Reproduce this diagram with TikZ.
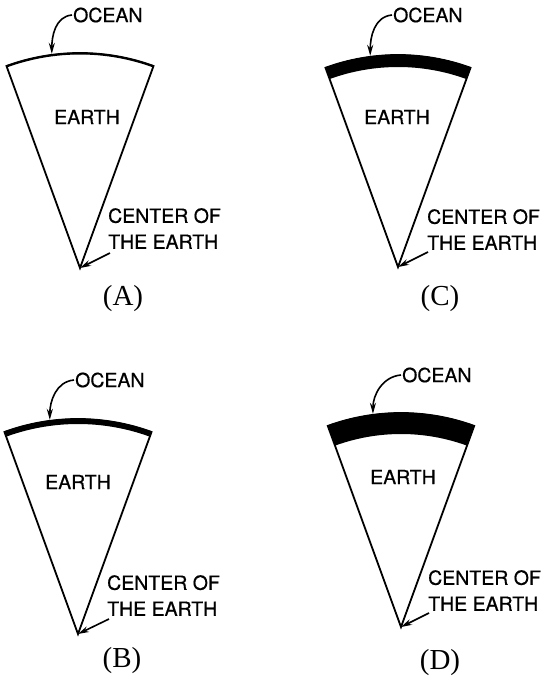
\documentclass[tikz,border=0pt]{standalone}
\usepackage{fontspec}
\setmainfont{Liberation Serif}
\newfontfamily\letterfont[FakeBold=0.6]{TeX Gyre Heros}
\usepackage{tikz}
\usetikzlibrary{calc,arrows.meta}
\tikzset{
    lettering/.style={
        font=\letterfont\fontsize{19.5}{26}\selectfont,
        inner sep=0pt
    },
    caption/.style={
        font=\fontsize{29}{30}\selectfont,
        inner sep=0pt
    },
    wedge/.style={
        draw,
        line width=1.8pt,
        line join=miter
    },
    ocean/.style={
        fill=black
    },
    pointer/.style={
        -{Stealth[length=11pt,width=6pt]},
        line width=1.6pt
    }
}

\begin{document}
\begin{tikzpicture}[x=1pt,y=1pt]

\useasboundingbox (0,0) rectangle (545,-683);

% ============================================================
% (A) THIN OCEAN
% ============================================================

\coordinate (apexA) at (80,-268);

\draw[wedge] (apexA) -- ++(110:215)
arc[start angle=110,end angle=70,radius=215] -- cycle;

\fill[ocean] (apexA) ++(110:215.5)
arc[start angle=110,end angle=70,radius=215.5]
-- ($(apexA)+(70:213.5)$)
arc[start angle=70,end angle=110,radius=213.5] -- cycle;

\node[lettering, anchor=west] (oceanA) at (73,-15) {OCEAN};
\node[lettering] (earthA) at (87,-117) {EARTH};
\node[lettering, anchor=north west, align=left] (centerA) at (108,-208)
{CENTER OF\\THE EARTH};
\node[caption] (capA) at (123,-299) {(A)};

\coordinate (seaA) at ($(apexA)+(97.5:216)$);
\coordinate (tailA) at ($(apexA)+(30,15)$);

\draw[pointer] ([xshift=-1pt]oceanA.west) to[out=185,in=90] (seaA);
\draw[pointer] (tailA) -- (apexA);


% ============================================================
% (C) THICKER OCEAN
% ============================================================

\coordinate (apexC) at (398,-267);

\draw[wedge] (apexC) -- ++(110:212)
arc[start angle=110,end angle=70,radius=212] -- cycle;

\fill[ocean] (apexC) ++(110:212.5)
arc[start angle=110,end angle=70,radius=212.5]
-- ($(apexC)+(70:200)$)
arc[start angle=70,end angle=110,radius=200] -- cycle;

\node[lettering, anchor=west] (oceanC) at (393,-15) {OCEAN};
\node[lettering] (earthC) at (397,-117) {EARTH};
\node[lettering, anchor=north west, align=left] (centerC) at (427,-209)
{CENTER OF\\THE EARTH};
\node[caption] (capC) at (440,-299) {(C)};

\coordinate (seaC) at ($(apexC)+(97.5:213)$);
\coordinate (tailC) at ($(apexC)+(30,15)$);

\draw[pointer] ([xshift=-1pt]oceanC.west) to[out=185,in=90] (seaC);
\draw[pointer] (tailC) -- (apexC);


% ============================================================
% (B) THIN BAND
% ============================================================

\coordinate (apexB) at (78,-634);

\draw[wedge] (apexB) -- ++(110:215)
arc[start angle=110,end angle=70,radius=215] -- cycle;

\fill[ocean] (apexB) ++(110:215.5)
arc[start angle=110,end angle=70,radius=215.5]
-- ($(apexB)+(70:210)$)
arc[start angle=70,end angle=110,radius=210] -- cycle;

\node[lettering, anchor=west] (oceanB) at (75,-380) {OCEAN};
\node[lettering] (earthB) at (78,-482) {EARTH};
\node[lettering, anchor=north west, align=left] (centerB) at (107,-575)
{CENTER OF\\THE EARTH};
\node[caption] (capB) at (122,-661) {(B)};

\coordinate (seaB) at ($(apexB)+(97.5:216)$);
\coordinate (tailB) at ($(apexB)+(31,15)$);

\draw[pointer] ([xshift=-1pt]oceanB.west) to[out=185,in=90] (seaB);
\draw[pointer] (tailB) -- (apexB);


% ============================================================
% (D) THICKEST OCEAN
% ============================================================

\coordinate (apexD) at (401,-627);

\draw[wedge] (apexD) -- ++(110:214)
arc[start angle=110,end angle=70,radius=214] -- cycle;

\fill[ocean] (apexD) ++(110:214.5)
arc[start angle=110,end angle=70,radius=214.5]
-- ($(apexD)+(70:193)$)
arc[start angle=70,end angle=110,radius=193] -- cycle;

\node[lettering, anchor=west] (oceanD) at (402,-375) {OCEAN};
\node[lettering] (earthD) at (403,-477) {EARTH};
\node[lettering, anchor=north west, align=left] (centerD) at (428,-570)
{CENTER OF\\THE EARTH};
\node[caption] (capD) at (440,-663) {(D)};

\coordinate (seaD) at ($(apexD)+(97.5:215)$);
\coordinate (tailD) at ($(apexD)+(28,14)$);

\draw[pointer] ([xshift=-1pt]oceanD.west) to[out=185,in=90] (seaD);
\draw[pointer] (tailD) -- (apexD);

\end{tikzpicture}
\end{document}
